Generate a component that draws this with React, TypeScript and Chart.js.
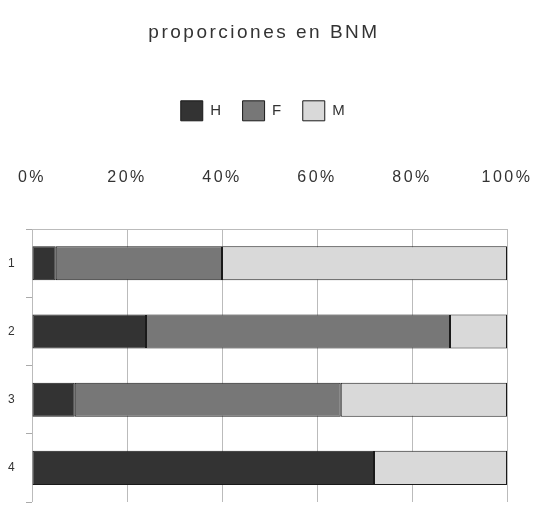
import React, { useEffect, useRef } from "react";
import { Chart, registerables } from "chart.js";

Chart.register(...registerables);

const categories = ["1", "2", "3", "4"];
const seriesH = [5, 24, 9, 72];
const seriesF = [35, 64, 56, 0];
const seriesM = [60, 12, 35, 28];
const xTicks = [0, 20, 40, 60, 80, 100];

const FONT = "'Liberation Sans', Arial, sans-serif";

const spacingPlugin = {
  id: "letterSpacing",
  beforeInit(chart: any) { chart.ctx.letterSpacing = "2.5px"; },
  beforeUpdate(chart: any) { chart.ctx.letterSpacing = "2.5px"; },
  beforeLayout(chart: any) { chart.ctx.letterSpacing = "2.5px"; },
  beforeDraw(chart: any) { chart.ctx.letterSpacing = "2.5px"; },
};

export default function App() {
  const ref = useRef<HTMLCanvasElement | null>(null);

  useEffect(() => {
    if (!ref.current) return;
    const chart = new Chart(ref.current, {
      type: "bar",
      plugins: [spacingPlugin],
      data: {
        labels: categories,
        datasets: [
          { label: "H", data: seriesH, backgroundColor: "#333333", borderColor: "#1a1a1a", borderWidth: 1, borderSkipped: false },
          { label: "F", data: seriesF, backgroundColor: "#777777", borderColor: "#1a1a1a", borderWidth: 1, borderSkipped: false },
          { label: "M", data: seriesM, backgroundColor: "#d9d9d9", borderColor: "#1a1a1a", borderWidth: 1, borderSkipped: false },
        ],
      },
      options: {
        indexAxis: "y",
        animation: false,
        responsive: false,
        maintainAspectRatio: false,
        layout: { padding: { left: 8, right: 14, top: 0, bottom: 8 } },
        datasets: { bar: { categoryPercentage: 1, barPercentage: 0.5 } },
        plugins: {
          title: {
            display: true,
            text: "proporciones en BNM",
            color: "#333333",
            font: { family: FONT, size: 19, weight: "normal" },
            padding: { top: 21, bottom: 38 },
          },
          legend: {
            display: true,
            position: "top",
            labels: {
              boxWidth: 22,
              boxHeight: 20,
              padding: 19,
              color: "#333333",
              font: { family: FONT, size: 15 },
            },
          },
          tooltip: { enabled: false },
        },
        scales: {
          x: {
            position: "top",
            stacked: true,
            min: 0,
            max: 100,
            afterBuildTicks: (axis: any) => {
              axis.ticks = xTicks.map((v) => ({ value: v }));
            },
            afterFit: (axis: any) => {
              axis.paddingRight = 27;
            },
            ticks: {
              callback: (v: any) => v + "%",
              color: "#333333",
              font: { family: FONT, size: 16 },
              padding: 0,
              maxRotation: 0,
            },
            title: {
              display: true,
              text: " ",
              font: { family: FONT, size: 16 },
              padding: { top: 18, bottom: 0 },
            },
            grid: { color: "#bbbbbb", drawTicks: true, tickLength: 42, tickColor: "rgba(0,0,0,0)", lineWidth: 1 },
            border: { display: true, color: "#bbbbbb" },
          },
          y: {
            stacked: true,
            afterFit: (axis: any) => {
              axis.width = 24;
              axis.paddingTop = 0;
              axis.paddingBottom = 0;
            },
            ticks: {
              color: "#333333",
              font: { family: FONT, size: 12 },
              padding: 1,
              crossAlign: "far",
            },
            grid: {
              offset: true,
              color: (ctx: any) => (ctx.index === 0 || ctx.index === categories.length ? "#bbbbbb" : "rgba(0,0,0,0)"),
              tickColor: "#aaaaaa",
              tickLength: 6,
              drawTicks: true,
            },
            border: { display: false },
          },
        },
      },
    } as any);
    return () => chart.destroy();
  }, []);

  return (
    <div style={{ position: "absolute", left: 0, top: 0, width: 534, height: 510, background: "#fff" }}>
      <canvas ref={ref} width={534} height={510} style={{ width: 534, height: 510 }} />
    </div>
  );
}
